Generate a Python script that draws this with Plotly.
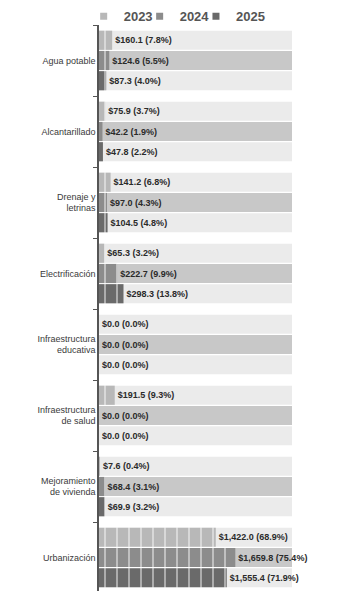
import plotly.graph_objects as go

# datos (millones de pesos)
categorias = ["Agua potable", "Alcantarillado", "Drenaje y<br>letrinas", "Electrificación",
              "Infraestructura<br>educativa", "Infraestructura<br>de salud",
              "Mejoramiento<br>de vivienda", "Urbanización"]
anios = ["2023", "2024", "2025"]

monto_2023 = [160.1, 75.9, 141.2, 65.3, 0.0, 191.5, 7.6, 1422.0]
monto_2024 = [124.6, 42.2, 97.0, 222.7, 0.0, 0.0, 68.4, 1659.8]
monto_2025 = [87.3, 47.8, 104.5, 298.3, 0.0, 0.0, 69.9, 1555.4]

pct_2023 = [7.8, 3.7, 6.8, 3.2, 0.0, 9.3, 0.4, 68.9]
pct_2024 = [5.5, 1.9, 4.3, 9.9, 0.0, 0.0, 3.1, 75.4]
pct_2025 = [4.0, 2.2, 4.8, 13.8, 0.0, 0.0, 3.2, 71.9]

track_max = 2350

montos = [monto_2023, monto_2024, monto_2025]
pcts = [pct_2023, pct_2024, pct_2025]
colores = ["#b8b8b8", "#8c8c8c", "#6a6a6a"]
colores_fondo = ["#ebebeb", "#c8c8c8", "#ebebeb"]
offsets = [-0.42, -0.135, 0.15]
ancho = 0.27

fig = go.Figure()

# barras de fondo (pistas)
for i in range(3):
    fig.add_trace(go.Bar(
        y=categorias, x=[track_max] * len(categorias), orientation="h",
        marker=dict(color=colores_fondo[i], line=dict(width=0)),
        offset=offsets[i], width=ancho, showlegend=False, hoverinfo="skip"))

# barras con datos
for i in range(3):
    textos = [f"${v:,.1f} ({p:.1f}%)" for v, p in zip(montos[i], pcts[i])]
    fig.add_trace(go.Bar(
        y=categorias, x=montos[i], orientation="h", name=anios[i], showlegend=False,
        marker=dict(color=colores[i], line=dict(width=0),
                    pattern=dict(shape="|", fillmode="overlay", fgcolor="white",
                                 size=12, solidity=0.15)),
        offset=offsets[i], width=ancho,
        text=textos, textposition="outside", cliponaxis=False, constraintext="none",
        textfont=dict(family="Liberation Sans", size=9, color="#2a2a2a", weight="bold")))

# leyenda con cuadritos, una leyenda por anio para acomodarlas juntas
nombres_leyenda = ["legend", "legend2", "legend3"]
for i in range(3):
    fig.add_trace(go.Scatter(
        x=[None], y=[None], mode="markers", name=anios[i], legend=nombres_leyenda[i],
        marker=dict(symbol="square", size=7, color=colores[i])))

pos_leyenda = [0.215, 0.374, 0.534]
for i in range(3):
    fig.update_layout({nombres_leyenda[i]: dict(
        xref="container", x=pos_leyenda[i], xanchor="left",
        yref="container", y=0.986, yanchor="middle",
        bgcolor="rgba(0,0,0,0)",
        font=dict(size=13, color="#555555", family="Liberation Sans", weight="bold"),
        itemwidth=30)})

fig.update_layout(
    width=352, height=591,
    barmode="overlay",
    paper_bgcolor="white", plot_bgcolor="white",
    margin=dict(l=91, r=68, t=17, b=6, autoexpand=False),
    font=dict(family="Liberation Sans", color="#444444"),
    xaxis=dict(range=[0, track_max], visible=False, fixedrange=True),
    yaxis=dict(autorange="reversed", showline=True, linecolor="#555555", linewidth=1.5,
               ticks="outside", tickson="boundaries", ticklen=4, tickcolor="#555555",
               showgrid=False, tickfont=dict(size=9, color="#3a3a3a")),
)

fig.write_html("out.html")
